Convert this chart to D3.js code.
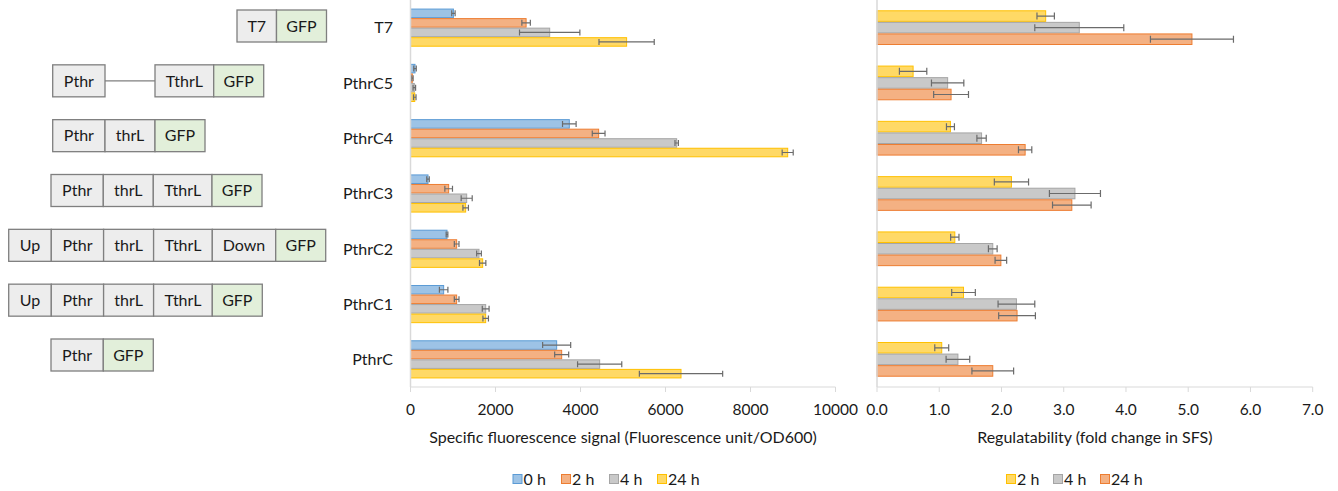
<!DOCTYPE html>
<html>
<head>
<meta charset="utf-8">
<script src="https://cdn.jsdelivr.net/npm/d3@7"></script>
<style>
  body { margin: 0; background: #fff; }
  svg { display: block; font-family: Lato, "Open Sans", sans-serif; }
</style>
</head>
<body>
<div id="chart"></div>
<script>
// rows, top to bottom
const categories = ["T7", "PthrC5", "PthrC4", "PthrC3", "PthrC2", "PthrC1", "PthrC"];

// construct drawn left of each row ("" = plain linker line)
const constructs = [
  ["T7", "GFP"],
  ["Pthr", "", "TthrL", "GFP"],
  ["Pthr", "thrL", "GFP"],
  ["Pthr", "thrL", "TthrL", "GFP"],
  ["Up", "Pthr", "thrL", "TthrL", "Down", "GFP"],
  ["Up", "Pthr", "thrL", "TthrL", "GFP"],
  ["Pthr", "GFP"],
];

// specific fluorescence signal
const sfsSeries = ["0 h", "2 h", "4 h", "24 h"];
const sfs0h  = [1010, 106, 3737, 412, 859, 780, 3439];
const sfs2h  = [2720, 42, 4427, 898, 1086, 1086, 3557];
const sfs4h  = [3275, 90, 6263, 1322, 1612, 1769, 4451];
const sfs24h = [5085, 100, 8875, 1298, 1698, 1769, 6365];
const sfs0hErr  = [40, 30, 160, 30, 20, 100, 330];
const sfs2hErr  = [100, 20, 150, 90, 55, 55, 165];
const sfs4hErr  = [710, 30, 40, 130, 55, 80, 520];
const sfs24hErr = [650, 30, 130, 65, 75, 65, 980];
const sfsTicks = [0, 2000, 4000, 6000, 8000, 10000];

// regulatability (fold change in SFS)
const regSeries = ["2 h", "4 h", "24 h"];
const reg2h  = [2.71, 0.58, 1.18, 2.16, 1.25, 1.39, 1.04];
const reg4h  = [3.25, 1.135, 1.68, 3.18, 1.86, 2.24, 1.30];
const reg24h = [5.06, 1.19, 2.38, 3.13, 1.99, 2.25, 1.86];
const reg2hErr  = [0.14, 0.22, 0.064, 0.275, 0.067, 0.19, 0.112];
const reg4hErr  = [0.715, 0.26, 0.075, 0.41, 0.07, 0.295, 0.19];
const reg24hErr = [0.667, 0.28, 0.107, 0.31, 0.093, 0.295, 0.335];
const regTicks = [0, 1, 2, 3, 4, 5, 6, 7];

const W = 1338, H = 491;
const plotTop = 0, plotBottom = 387;

const blue = ["#9dc3e6", "#5b9bd5"], orange = ["#f4b183", "#ed7d31"],
      gray = ["#c9c9c9", "#a5a5a5"], yellow = ["#ffd966", "#ffc000"];
const partWidth = { T7: 39.5, GFP: 50, Pthr: 52.3, thrL: 50, TthrL: 58.7, "": 50, Up: 42.6, Down: 63.4 };
const rowStart = [237, 52.7, 52.7, 51, 8.7, 8.7, 51];
const textColor = "#1a1a1a";
const axisColor = "#d9d9d9";
const errColor = "#6b6b6b";

const svg = d3.select("#chart").append("svg")
  .attr("width", W)
  .attr("height", H);

// ---------- construct diagrams ----------
const rowY = d3.scalePoint().domain(categories).range([26, 355]);
const boxH = 32;

constructs.forEach((parts, i) => {
  const cy = rowY(categories[i]);
  const g = svg.append("g");
  let x = rowStart[i];
  parts.forEach(p => {
    const w = partWidth[p];
    if (p === "") {
      g.append("line")
        .attr("x1", x).attr("x2", x + w)
        .attr("y1", cy).attr("y2", cy)
        .attr("stroke", "#7f7f7f")
        .attr("stroke-width", 1.2);
    } else {
      g.append("rect")
        .attr("x", x).attr("y", cy - boxH / 2)
        .attr("width", w).attr("height", boxH)
        .attr("fill", p === "GFP" ? "#e2efda" : "#ededed")
        .attr("stroke", "#7f7f7f")
        .attr("stroke-width", 1.3);
      g.append("text")
        .attr("x", x + w / 2).attr("y", cy)
        .attr("dy", "0.36em")
        .attr("text-anchor", "middle")
        .attr("font-size", 16)
        .attr("fill", textColor)
        .text(p);
    }
    x += w;
  });
});

// ---------- shared drawing for both bar panels ----------
function barPanel(opts) {
  const x = d3.scaleLinear().domain(opts.domain).range(opts.range);
  const y = d3.scaleBand().domain(categories).range([plotTop, plotBottom])
    .paddingInner(opts.pad).paddingOuter(opts.pad / 2);
  const sub = d3.scaleBand().domain(opts.series).range([0, y.bandwidth()]);

  const g = svg.append("g");

  opts.series.forEach((s, si) => {
    const vals = opts.values[si];
    categories.forEach((c, ci) => {
      const y0 = y(c) + sub(s);
      g.append("rect")
        .attr("x", x(0))
        .attr("y", y0 + 0.5)
        .attr("width", x(vals[ci]) - x(0))
        .attr("height", sub.bandwidth() - 1)
        .attr("fill", opts.colors[si][0])
        .attr("stroke", opts.colors[si][1])
        .attr("stroke-width", 1);
    });
  });

  // error bars on top
  opts.series.forEach((s, si) => {
    const vals = opts.values[si], errs = opts.errors[si];
    categories.forEach((c, ci) => {
      const cy = y(c) + sub(s) + sub.bandwidth() / 2;
      const lo = x(vals[ci] - errs[ci]), hi = x(vals[ci] + errs[ci]);
      const cap = opts.cap;
      g.append("path")
        .attr("d", `M${lo},${cy}H${hi}M${lo},${cy - cap}V${cy + cap}M${hi},${cy - cap}V${cy + cap}`)
        .attr("fill", "none")
        .attr("stroke", errColor)
        .attr("stroke-width", 1.2);
    });
  });

  // value axis line and ticks
  g.append("line")
    .attr("x1", x(0)).attr("x2", x(opts.domain[1]))
    .attr("y1", plotBottom).attr("y2", plotBottom)
    .attr("stroke", axisColor);
  g.append("line")
    .attr("x1", x(0)).attr("x2", x(0))
    .attr("y1", plotTop).attr("y2", plotBottom)
    .attr("stroke", axisColor).attr("stroke-width", 1.5);
  g.selectAll(".tick")
    .data(opts.ticks)
    .enter().append("line")
    .attr("x1", d => x(d)).attr("x2", d => x(d))
    .attr("y1", plotBottom).attr("y2", plotBottom + 5)
    .attr("stroke", axisColor);
  g.selectAll(".ticklabel")
    .data(opts.ticks)
    .enter().append("text")
    .attr("x", d => x(d))
    .attr("y", 415)
    .attr("text-anchor", "middle")
    .attr("font-size", 15.5)
    .attr("fill", textColor)
    .text(opts.fmt);

  g.append("text")
    .attr("x", (opts.range[0] + opts.range[1]) / 2)
    .attr("y", 443)
    .attr("text-anchor", "middle")
    .attr("font-size", 16)
    .attr("fill", textColor)
    .text(opts.title);

  // legend
  opts.legendX.forEach((lx, i) => {
    const s = opts.series[i];
    g.append("rect")
      .attr("x", lx + 0.5).attr("y", 474.5)
      .attr("width", 9).attr("height", 9)
      .attr("fill", opts.colors[i][0]).attr("stroke", opts.colors[i][1]);
    g.append("text")
      .attr("x", lx + 11).attr("y", 484.5)
      .attr("font-size", 16)
      .attr("fill", textColor)
      .text(s);
  });

  return y;
}

const yMid = barPanel({
  series: sfsSeries,
  values: [sfs0h, sfs2h, sfs4h, sfs24h],
  errors: [sfs0hErr, sfs2hErr, sfs4hErr, sfs24hErr],
  colors: [blue, orange, gray, yellow],
  domain: [0, 10000],
  range: [410.5, 835.5],
  ticks: sfsTicks,
  fmt: d => d3.format("d")(d),
  pad: 0.31,
  cap: 3,
  title: "Specific fluorescence signal (Fluorescence unit/OD600)",
  legendX: [512.5, 561, 609, 657],
});

barPanel({
  series: regSeries,
  values: [reg2h, reg4h, reg24h],
  errors: [reg2hErr, reg4hErr, reg24hErr],
  colors: [yellow, gray, orange],
  domain: [0, 7],
  range: [877, 1312.7],
  ticks: regTicks,
  fmt: d => d3.format(".1f")(d),
  pad: 0.372,
  cap: 3.5,
  title: "Regulatability (fold change in SFS)",
  legendX: [1006, 1053, 1100],
});

// category labels
svg.append("g").selectAll("text")
  .data(categories)
  .enter().append("text")
  .attr("x", 393)
  .attr("y", d => yMid(d) + yMid.bandwidth() / 2)
  .attr("dy", "0.36em")
  .attr("text-anchor", "end")
  .attr("font-size", 16)
  .attr("fill", textColor)
  .text(d => d);
</script>
</body>
</html>
